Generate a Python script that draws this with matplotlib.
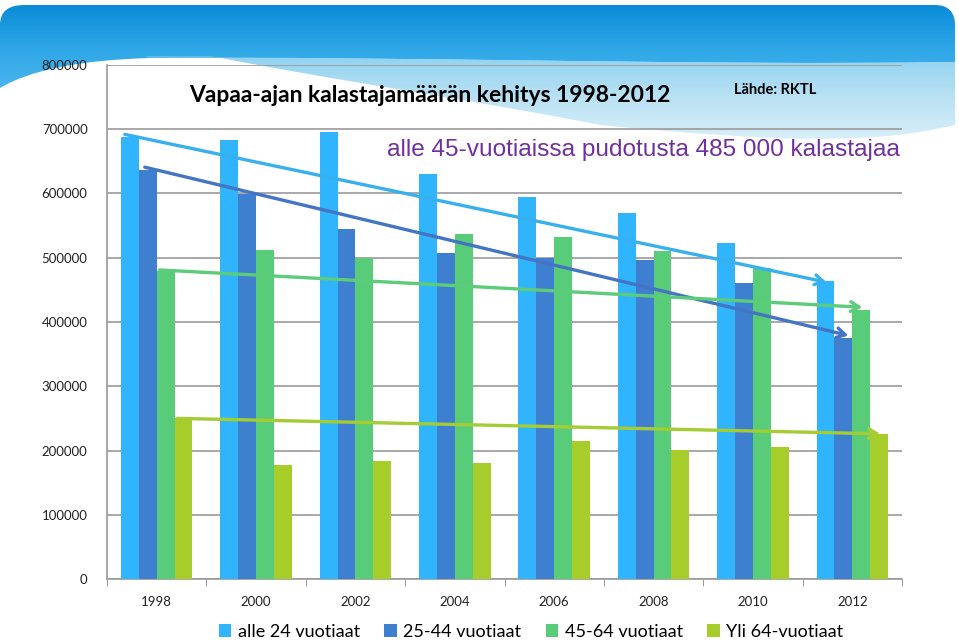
import numpy as np
import matplotlib
matplotlib.use('Agg')
import matplotlib.pyplot as plt
from matplotlib.path import Path
from matplotlib.patches import PathPatch

# Tiedot (luettu kuvasta)
vuodet = ['1998', '2000', '2002', '2004', '2006', '2008', '2010', '2012']
alle24 = [688000, 683000, 696000, 630000, 594000, 570000, 523000, 464000]
v25_44 = [637000, 599000, 545000, 507000, 500000, 497000, 461000, 375000]
v45_64 = [479000, 512000, 500000, 537000, 532000, 511000, 484000, 419000]
yli64 = [250000, 177000, 184000, 181000, 215000, 201000, 205000, 225000]
sarjat = ['alle 24 vuotiaat', '25-44 vuotiaat', '45-64 vuotiaat', 'Yli 64-vuotiaat']
varit = ['#30b4fc', '#3f7fd0', '#58cc78', '#a6cd2a']

# Trendinuolet: (x alku, arvo alku, x loppu, arvo loppu)
trendi_x0 = [-0.32, -0.12, 0.03, 0.21]
trendi_y0 = [692000, 641000, 481000, 250000]
trendi_x1 = [6.74, 6.96, 7.10, 7.28]
trendi_y1 = [462000, 379000, 423000, 226000]
trendi_varit = ['#38b0ee', '#4474c4', '#5ccc7a', '#a4cc34']

fig = plt.figure(figsize=(9.59, 6.43), dpi=100)
fig.patch.set_facecolor('white')

# Taustan aaltokuvio
bg = fig.add_axes([0, 0, 1, 1], zorder=-1)
bg.set_xlim(0, 959)
bg.set_ylim(643, 0)
bg.axis('off')

grad = np.linspace(0, 1, 256).reshape(-1, 1)
cmap1 = matplotlib.colors.LinearSegmentedColormap.from_list('b1', ['#0a8cd8', '#2ea6e6', '#4ab6ee'])
verts = [(0, 88), (0, 25), (0, 10), (10, 5), (25, 5),
         (935, 5), (948, 5), (955, 12), (955, 25),
         (955, 62), (700, 66), (400, 56), (150, 58),
         (80, 60), (30, 70), (0, 88)]
codes = [Path.MOVETO, Path.LINETO, Path.CURVE4, Path.CURVE4, Path.CURVE4,
         Path.LINETO, Path.CURVE4, Path.CURVE4, Path.CURVE4,
         Path.LINETO, Path.CURVE4, Path.CURVE4, Path.CURVE4,
         Path.CURVE4, Path.CURVE4, Path.CURVE4]
patch1 = PathPatch(Path(verts, codes), facecolor='none', edgecolor='none')
bg.add_patch(patch1)
im1 = bg.imshow(grad, extent=[0, 959, 90, 5], cmap=cmap1, aspect='auto')
im1.set_clip_path(patch1)

cmap2 = matplotlib.colors.LinearSegmentedColormap.from_list('b2', ['#6cc4ec', '#a6d9f0', '#d2edf8'])
verts2 = [(150, 58), (400, 56), (700, 66), (955, 62),
          (955, 125), (870, 145), (780, 142),
          (600, 125), (400, 85), (150, 58)]
codes2 = [Path.MOVETO, Path.CURVE4, Path.CURVE4, Path.CURVE4,
          Path.LINETO, Path.CURVE4, Path.CURVE4,
          Path.CURVE4, Path.CURVE4, Path.CURVE4]
patch2 = PathPatch(Path(verts2, codes2), facecolor='none', edgecolor='none')
bg.add_patch(patch2)
im2 = bg.imshow(grad, extent=[0, 959, 145, 56], cmap=cmap2, aspect='auto', alpha=0.75)
im2.set_clip_path(patch2)

# Pylväskaavio
ax = fig.add_axes([107 / 959, 1 - 579 / 643, 795 / 959, 514 / 643])
ax.set_facecolor('none')
x = np.arange(len(vuodet))
w = 0.18
for i, (arvot, nimi, vari) in enumerate(zip([alle24, v25_44, v45_64, yli64], sarjat, varit)):
    ax.bar(x + (i - 1.5) * w, arvot, w, color=vari, label=nimi, zorder=3)

for x0, y0, x1, y1, c in zip(trendi_x0, trendi_y0, trendi_x1, trendi_y1, trendi_varit):
    ax.annotate('', xy=(x1, y1), xytext=(x0, y0),
                arrowprops=dict(arrowstyle='->,head_length=0.6,head_width=0.35',
                                color=c, lw=2.4, shrinkA=0, shrinkB=0), zorder=4)

ax.set_xlim(-0.5, len(vuodet) - 0.5)
ax.set_ylim(0, 800000)
ax.set_yticks(np.arange(0, 800001, 100000))
ax.set_yticklabels([str(v) for v in range(0, 800001, 100000)], fontsize=9.5,
                   family='Lato', color='#222222')
ax.set_xticks(x)
ax.set_xticklabels(vuodet, fontsize=9.5, family='Lato', color='#222222')
ax.set_xticks(np.arange(-0.5, len(vuodet)), minor=True)
ax.tick_params(axis='x', which='major', length=0, pad=12)
ax.tick_params(axis='x', which='minor', length=5, color='#888888')
ax.tick_params(axis='y', length=0, pad=14)
ax.grid(axis='y', color='#9a9a9a', lw=1.2, zorder=0)
for s in ['top', 'right']:
    ax.spines[s].set_visible(False)
for s in ['left', 'bottom']:
    ax.spines[s].set_color('#9a9a9a')
    ax.spines[s].set_linewidth(1.2)

# Tekstit
fig.text(430 / 959, 1 - 96 / 643, 'Vapaa-ajan kalastajamäärän kehitys 1998-2012',
         ha='center', va='center', fontsize=16.5, fontweight='bold', family='Lato')
fig.text(775 / 959, 1 - 90 / 643, 'Lähde: RKTL', ha='center', va='center',
         fontsize=10.5, fontweight='bold', family='Lato')
fig.text(643 / 959, 1 - 150 / 643, 'alle 45-vuotiaissa pudotusta 485 000 kalastajaa',
         ha='center', va='center', fontsize=17.6, color='#7030a0', family='Liberation Sans')

fig.legend(loc='center', bbox_to_anchor=(531 / 959, 1 - 632 / 643), ncol=4,
           frameon=False, prop={'family': 'Lato', 'size': 13},
           handlelength=0.7, handleheight=0.7, handletextpad=0.35, columnspacing=1.35)

plt.savefig('out.png', dpi=100)
